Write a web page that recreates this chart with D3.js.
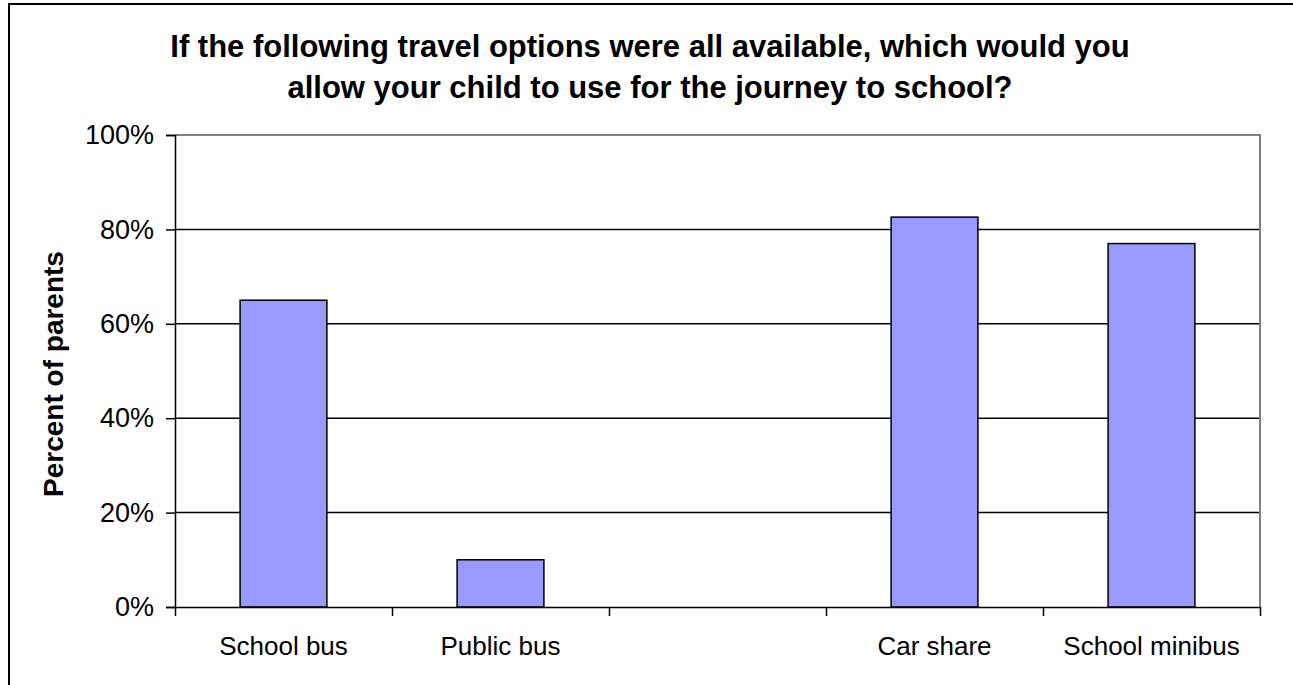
<!DOCTYPE html>
<html>
<head>
<meta charset="utf-8">
<script src="https://cdn.jsdelivr.net/npm/d3@7"></script>
<style>
  html, body { margin: 0; padding: 0; background: #fff; }
  svg { display: block; font-family: Arial, "Liberation Sans", sans-serif; }
</style>
</head>
<body>
<svg id="chart" width="1293" height="685"></svg>
<script>
// Survey results: share of parents who would allow each travel option
const categories = ["School bus", "Public bus", "", "Car share", "School minibus"];
const values = [65, 10, null, 82.6, 77];
const yTicks = [0, 20, 40, 60, 80, 100];
const titleLines = [
  "If the following travel options were all available, which would you",
  "allow your child to use for the journey to school?"
];
const yTitle = "Percent of parents";

const W = 1293, H = 685;
const plot = { left: 175, right: 1260, top: 135, bottom: 607 };

const svg = d3.select("#chart");

// chart area frame
svg.append("rect")
  .attr("x", 9).attr("y", 4)
  .attr("width", W + 20).attr("height", H + 20)
  .attr("fill", "#fff").attr("stroke", "#000").attr("stroke-width", 2);

const x = d3.scaleBand()
  .domain(d3.range(categories.length))
  .range([plot.left, plot.right])
  .paddingInner(0.6).paddingOuter(0.3);

const xEdge = d3.scaleLinear()
  .domain([0, categories.length])
  .range([plot.left, plot.right]);

const y = d3.scaleLinear().domain([0, 100]).range([plot.bottom, plot.top]);

// gridlines
svg.append("g")
  .selectAll("line")
  .data(yTicks.filter(t => t > 0 && t < 100))
  .join("line")
  .attr("x1", plot.left).attr("x2", plot.right)
  .attr("y1", d => y(d)).attr("y2", d => y(d))
  .attr("stroke", "#000").attr("stroke-width", 1.5);

// plot area border (top and right)
svg.append("path")
  .attr("d", `M${plot.left},${y(100)}H${plot.right}V${plot.bottom}`)
  .attr("fill", "none").attr("stroke", "#808080").attr("stroke-width", 2);

// bars
svg.append("g")
  .selectAll("rect")
  .data(values.map((v, i) => ({ v, i })).filter(d => d.v != null))
  .join("rect")
  .attr("x", d => x(d.i))
  .attr("width", x.bandwidth())
  .attr("y", d => y(d.v))
  .attr("height", d => y(0) - y(d.v))
  .attr("fill", "#9999ff")
  .attr("stroke", "#000").attr("stroke-width", 1.5);

// y axis
const yAxis = d3.axisLeft(y)
  .tickValues(yTicks)
  .tickFormat(d => d + "%")
  .tickSize(9).tickPadding(12);
const gy = svg.append("g").attr("transform", `translate(${plot.left},0)`).call(yAxis);
gy.select(".domain").attr("stroke", "#000").attr("stroke-width", 1.5);
gy.selectAll(".tick line").attr("stroke", "#000").attr("stroke-width", 1.5);
gy.selectAll(".tick text")
  .attr("font-size", 27).attr("fill", "#000")
  .attr("font-family", "Arial, 'Liberation Sans', sans-serif");

// x axis with ticks on category boundaries
const xAxis = d3.axisBottom(xEdge)
  .tickValues(d3.range(categories.length + 1))
  .tickFormat("")
  .tickSize(9).tickSizeOuter(0);
const gx = svg.append("g").attr("transform", `translate(0,${plot.bottom})`).call(xAxis);
gx.select(".domain").attr("stroke", "#000").attr("stroke-width", 1.5);
gx.selectAll(".tick line").attr("stroke", "#000").attr("stroke-width", 1.5);

// category labels
svg.append("g")
  .selectAll("text")
  .data(categories)
  .join("text")
  .attr("x", (d, i) => x(i) + x.bandwidth() / 2)
  .attr("y", 655)
  .attr("text-anchor", "middle")
  .attr("font-size", 26)
  .text(d => d);

// title
svg.append("g")
  .selectAll("text")
  .data(titleLines)
  .join("text")
  .attr("x", 650)
  .attr("y", (d, i) => 57 + i * 41)
  .attr("text-anchor", "middle")
  .attr("font-size", 31)
  .attr("font-weight", "bold")
  .text(d => d);

// y axis title
svg.append("text")
  .attr("transform", `translate(63,${(plot.top + plot.bottom) / 2 + 3}) rotate(-90)`)
  .attr("text-anchor", "middle")
  .attr("font-size", 28)
  .attr("font-weight", "bold")
  .text(yTitle);
</script>
</body>
</html>
